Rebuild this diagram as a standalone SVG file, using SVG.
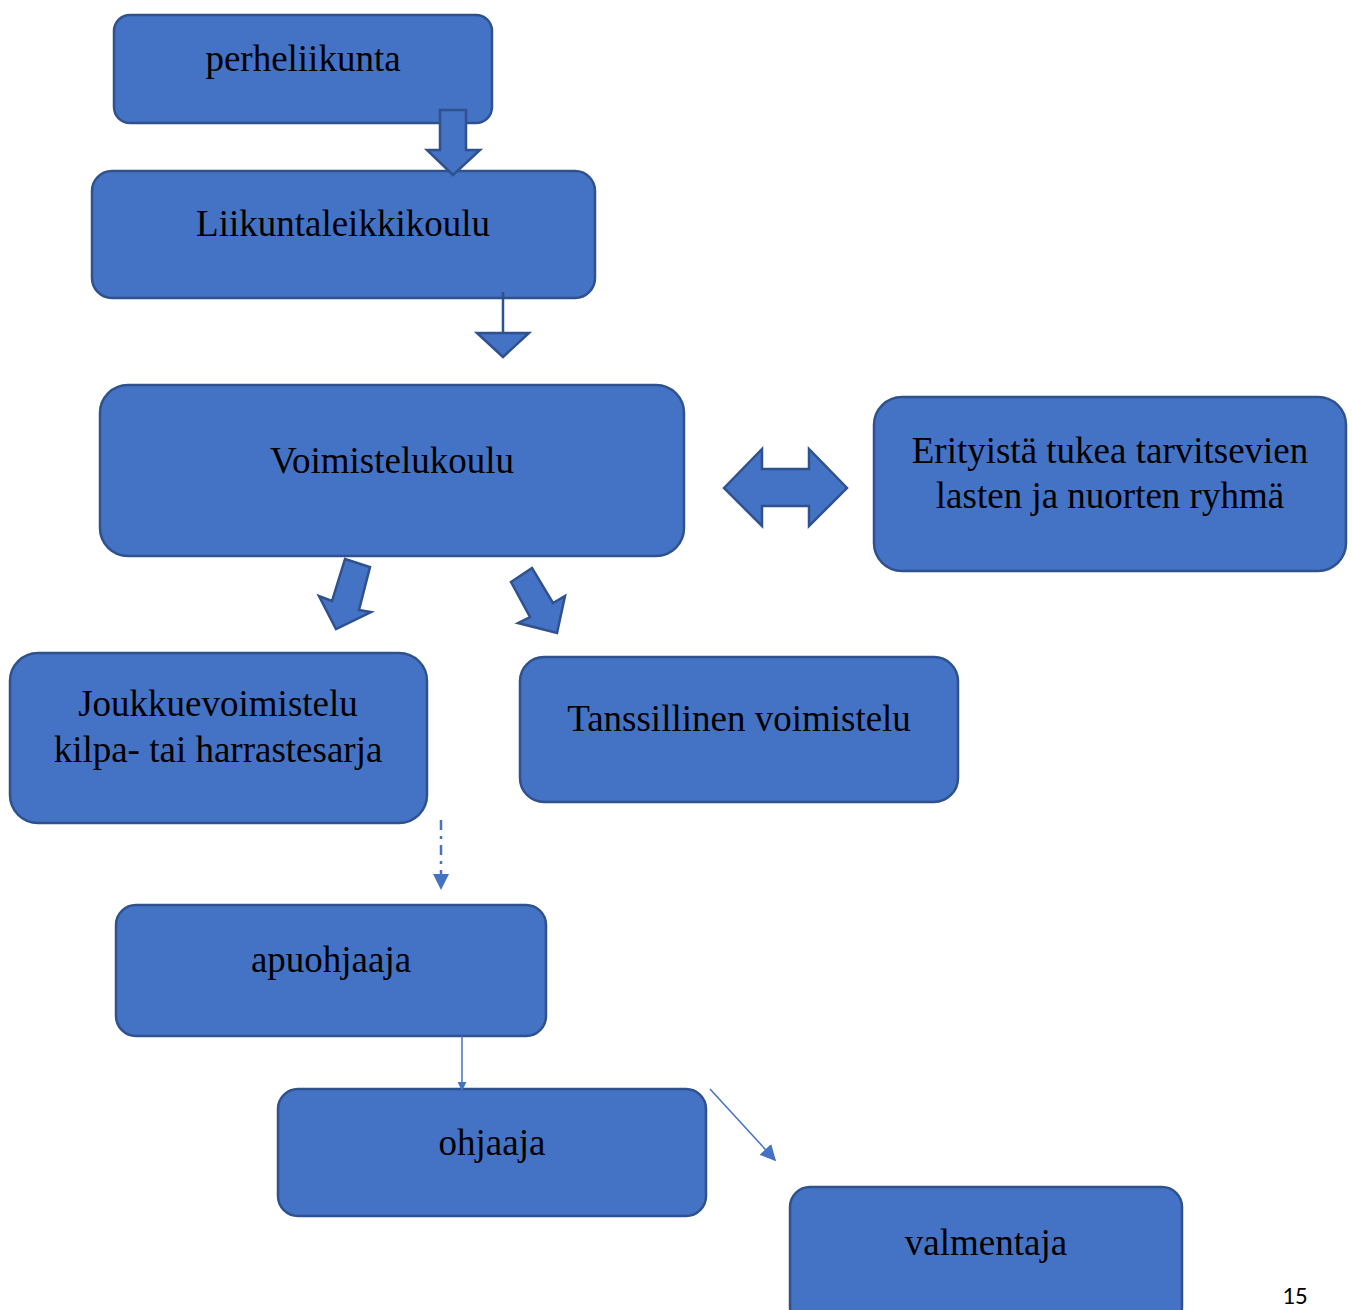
<svg xmlns="http://www.w3.org/2000/svg" width="1352" height="1310" viewBox="0 0 1352 1310">
<defs>
<style>
.box{fill:#4472C4;stroke:#2F528F;stroke-width:2.5}
.t{font-family:"Liberation Serif","Times New Roman",serif;font-size:37px;fill:#000;text-anchor:middle}
.blk{fill:#4472C4;stroke:#2F528F;stroke-width:2.5;stroke-linejoin:miter}
.ln{stroke:#4472C4;stroke-width:1.5;fill:none}
</style>
<marker id="ah" viewBox="0 0 10 10" refX="9" refY="5" markerWidth="9" markerHeight="9" markerUnits="userSpaceOnUse" orient="auto"><path d="M0,0 L10,5 L0,10 Z" fill="#4472C4"/></marker>
<marker id="ah2" viewBox="0 0 10 10" refX="9" refY="5" markerWidth="16" markerHeight="16" markerUnits="userSpaceOnUse" orient="auto"><path d="M0,0 L10,5 L0,10 Z" fill="#4472C4"/></marker>
</defs>
<rect width="1352" height="1310" fill="#fff"/>
<g id="n1"><rect class="box" x="114" y="15" width="378" height="108" rx="16"/><text class="t" x="303" y="71">perheliikunta</text></g>
<g id="n2"><rect class="box" x="92" y="171" width="503" height="127" rx="20"/><text class="t" x="343" y="236">Liikuntaleikkikoulu</text></g>
<g id="n3"><rect class="box" x="100" y="385" width="584" height="171" rx="28"/><text class="t" x="392" y="473">Voimistelukoulu</text></g>
<g id="n4"><rect class="box" x="874" y="397" width="472" height="174" rx="28"/><text class="t" x="1110" y="463">Erityistä tukea tarvitsevien</text><text class="t" x="1110" y="508">lasten ja nuorten ryhmä</text></g>
<g id="n5"><rect class="box" x="10" y="653" width="417" height="170" rx="28"/><text class="t" x="218" y="716">Joukkuevoimistelu</text><text class="t" x="218" y="762">kilpa- tai harrastesarja</text></g>
<g id="n6"><rect class="box" x="520" y="657" width="438" height="145" rx="24"/><text class="t" x="739" y="731">Tanssillinen voimistelu</text></g>
<g id="n7"><rect class="box" x="116" y="905" width="430" height="131" rx="20"/><text class="t" x="331" y="972">apuohjaaja</text></g>
<g id="n8"><rect class="box" x="278" y="1089" width="428" height="127" rx="20"/><text class="t" x="492" y="1155">ohjaaja</text></g>
<g id="n9"><rect class="box" x="790" y="1187" width="392" height="140" rx="20"/><text class="t" x="986" y="1255">valmentaja</text></g>
<g id="connectors">
<polygon class="blk" points="440,110 466,110 466,150 480,150 453,175 427,150 440,150"/>
<line x1="503" y1="292" x2="503" y2="333" stroke="#2F528F" stroke-width="2.5"/>
<polygon class="blk" points="477,333 529,333 503,357"/>
<polygon class="blk" points="724,488 762,449 762,469 809,469 809,449 847,488 809,526 809,506 762,506 762,526"/>
<polygon class="blk" points="345,559 370,567 359,610 371,612 336,629 319,596 332,601"/>
<polygon class="blk" points="511,582 532,568 553,603 565,596 557,633 518,623 530,617"/>
<line x1="441" y1="820" x2="441" y2="874" stroke="#4472C4" stroke-width="2.5" stroke-dasharray="10,6,3,6"/>
<polygon points="433,874 449,874 441,890" fill="#4472C4"/>
<line class="ln" x1="462" y1="1036" x2="462" y2="1090" marker-end="url(#ah)"/>
<line class="ln" x1="710" y1="1089" x2="775" y2="1160" marker-end="url(#ah2)"/>
</g>
<text x="1295" y="1304" font-family="Carlito,'Liberation Sans',sans-serif" font-size="25" text-anchor="middle" fill="#000">15</text>
</svg>
